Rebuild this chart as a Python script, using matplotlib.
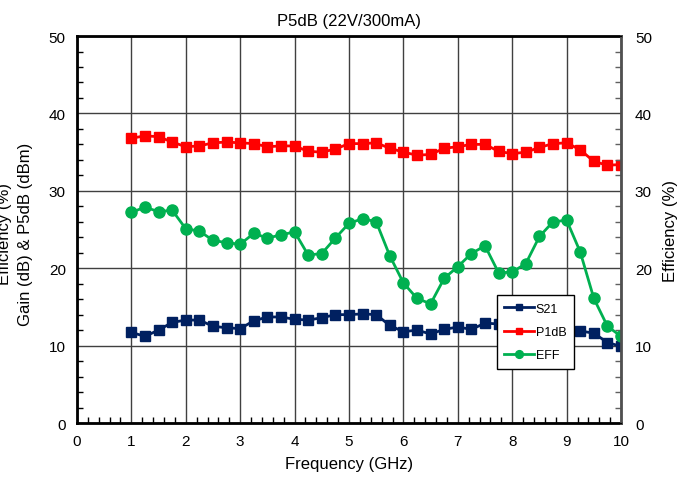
import matplotlib.pyplot as plt
from matplotlib.ticker import MultipleLocator

plt.rcParams['font.family'] = ['Liberation Sans', 'DejaVu Sans']

# frequency points (GHz)
freq = [1.0, 1.25, 1.5, 1.75, 2.0, 2.25, 2.5, 2.75, 3.0, 3.25, 3.5, 3.75,
        4.0, 4.25, 4.5, 4.75, 5.0, 5.25, 5.5, 5.75, 6.0, 6.25, 6.5, 6.75,
        7.0, 7.25, 7.5, 7.75, 8.0, 8.25, 8.5, 8.75, 9.0, 9.25, 9.5, 9.75, 10.0]

s21 = [11.7, 11.2, 12.0, 13.0, 13.3, 13.3, 12.5, 12.3, 12.2, 13.2, 13.7, 13.7,
       13.4, 13.3, 13.6, 14.0, 14.0, 14.1, 14.0, 12.6, 11.8, 12.0, 11.5, 12.1,
       12.4, 12.1, 12.9, 12.8, 12.9, 13.0, 13.0, 12.9, 12.7, 11.9, 11.6, 10.4, 9.9]

p1db = [36.8, 37.1, 37.0, 36.3, 35.7, 35.8, 36.2, 36.3, 36.2, 36.1, 35.7, 35.8,
        35.8, 35.1, 35.0, 35.4, 36.1, 36.1, 36.2, 35.5, 35.0, 34.6, 34.7, 35.5,
        35.7, 36.0, 36.0, 35.1, 34.8, 35.0, 35.6, 36.1, 36.2, 35.3, 33.8, 33.3, 33.4]

eff = [27.2, 27.9, 27.3, 27.5, 25.1, 24.8, 23.6, 23.3, 23.1, 24.5, 23.9, 24.3,
       24.7, 21.7, 21.9, 23.9, 25.8, 26.4, 26.0, 21.6, 18.1, 16.1, 15.4, 18.7,
       20.2, 21.9, 22.9, 19.4, 19.5, 20.6, 24.1, 26.0, 26.2, 22.1, 16.1, 12.5, 11.2]

fig = plt.figure(figsize=(6.87, 4.81), dpi=100)
ax = fig.add_axes([0.112, 0.1185, 0.792, 0.8045])

l1, = ax.plot(freq, s21, color='#002060', marker='s', markersize=7, linewidth=2, label='S21')
l2, = ax.plot(freq, p1db, color='#FF0000', marker='s', markersize=7, linewidth=2, label='P1dB')

ax.set_xlim(0, 10)
ax.set_ylim(0, 50)
ax.xaxis.set_major_locator(MultipleLocator(1))
ax.xaxis.set_minor_locator(MultipleLocator(0.2))
ax.yaxis.set_major_locator(MultipleLocator(10))
ax.yaxis.set_minor_locator(MultipleLocator(2))
ax.grid(True, which='major', color='#404040', linewidth=1)
ax.tick_params(which='both', direction='in', labelsize=11, top=False, right=False)
ax.tick_params(which='major', length=0, pad=8)
ax.tick_params(which='minor', length=4, width=1)
for s in ['left', 'bottom', 'top']:
    ax.spines[s].set_linewidth(2)
ax.set_xlabel('Frequency (GHz)', fontsize=12, labelpad=6)
# left label: the upper line sits partly outside the figure, as in the original
ax.set_ylabel('Efficiency (%)\nGain (dB) & P5dB (dBm)', fontsize=12, linespacing=1.5)
ax.yaxis.set_label_coords(-0.08, 0.49)
ax.set_title('P5dB (22V/300mA)', fontsize=12, pad=8)

ax2 = ax.twinx()
l3, = ax2.plot(freq, eff, color='#00B050', marker='o', markersize=8, linewidth=2, label='EFF')
ax2.set_ylim(0, 50)
ax2.yaxis.set_major_locator(MultipleLocator(10))
ax2.yaxis.set_minor_locator(MultipleLocator(2))
ax2.tick_params(which='both', direction='in', labelsize=11)
ax2.tick_params(which='major', length=0, pad=10)
ax2.tick_params(which='minor', length=4, width=1, color='#606060')
ax2.spines['right'].set_linewidth(2)
ax2.spines['right'].set_color('#505050')
ax2.set_ylabel('Efficiency (%)', fontsize=12, labelpad=8)

leg = ax2.legend(handles=[l1, l2, l3], loc='upper left', bbox_to_anchor=(0.772, 0.33),
                 borderaxespad=0, fontsize=9, frameon=True, fancybox=False, framealpha=1,
                 edgecolor='black', markerscale=0.7, handlelength=2.4, borderpad=0.6,
                 labelspacing=0.9, handletextpad=0.1)
leg.get_frame().set_linewidth(1)

fig.savefig('out.png', dpi=100)
